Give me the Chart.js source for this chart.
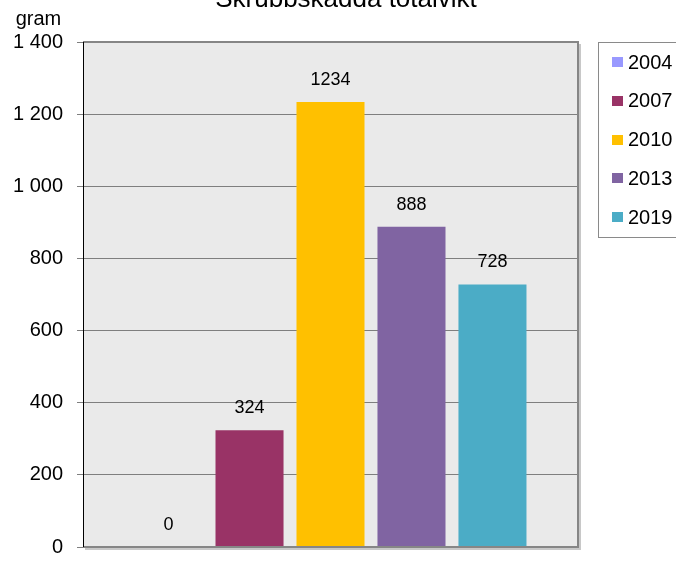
<!DOCTYPE html>
<html>
<head>
<meta charset="utf-8">
<script src="https://cdn.jsdelivr.net/npm/chart.js@4.4.1/dist/chart.umd.min.js"></script>
<style>
  html, body { margin: 0; padding: 0; background: #fff; overflow: hidden; }
  canvas { display: block; }
</style>
</head>
<body>
<canvas id="myChart" width="676" height="565"></canvas>
<script>
// data
const years = ['2004', '2007', '2010', '2013', '2019'];
const weights = [0, 324, 1234, 888, 728];
const barColors = ['#9999ff', '#993366', '#ffc000', '#8064a2', '#4bacc6'];
const yTicks = [0, 200, 400, 600, 800, 1000, 1200, 1400];

const chartTitle = 'Skrubbskädda totalvikt';
const yTitle = 'gram';
const FONT = '"Liberation Sans", Arial, sans-serif';

// swedish style thousands: "1 400"
function fmt(v) {
    return String(v).replace(/\B(?=(\d{3})+(?!\d))/g, ' ');
}

// plot background + frame
const plotFrame = {
    id: 'plotFrame',
    beforeDraw(chart) {
        const a = chart.chartArea, c = chart.ctx;
        c.save();
        c.fillStyle = '#eaeaea';
        c.fillRect(a.left, a.top, a.right - a.left, a.bottom - a.top);
        c.restore();
    },
    afterDraw(chart) {
        const a = chart.chartArea, c = chart.ctx;
        c.save();
        // soft shadow right and bottom
        c.strokeStyle = '#c8c8c8';
        c.lineWidth = 2;
        c.beginPath();
        c.moveTo(a.right + 2, a.top + 2);
        c.lineTo(a.right + 2, a.bottom + 2);
        c.lineTo(a.left + 2, a.bottom + 2);
        c.stroke();
        c.strokeStyle = '#868686';
        c.lineWidth = 2;
        c.beginPath();
        c.moveTo(a.left, a.top);
        c.lineTo(a.right, a.top);
        c.lineTo(a.right, a.bottom);
        c.lineTo(a.left, a.bottom);
        c.stroke();
        c.strokeStyle = '#000';
        c.lineWidth = 1;
        c.beginPath();
        c.moveTo(a.left + 0.5, a.top);
        c.lineTo(a.left + 0.5, a.bottom);
        c.stroke();
        c.restore();
    }
};

// value labels above the bars
const valueLabels = {
    id: 'valueLabels',
    afterDatasetsDraw(chart) {
        const c = chart.ctx;
        c.save();
        c.font = '18px ' + FONT;
        c.fillStyle = '#000';
        c.textAlign = 'center';
        c.textBaseline = 'middle';
        chart.data.datasets.forEach((ds, i) => {
            const bar = chart.getDatasetMeta(i).data[0];
            c.fillText(String(ds.data[0]), bar.x, bar.y - 22);
        });
        c.restore();
    }
};

// title, axis title and legend box
const extras = {
    id: 'extras',
    afterDraw(chart) {
        const c = chart.ctx;
        c.save();
        c.fillStyle = '#000';
        c.textAlign = 'center';
        c.textBaseline = 'alphabetic';
        c.font = '26px ' + FONT;
        c.fillText(chartTitle, 346, 7);
        c.font = '20px ' + FONT;
        c.fillText(yTitle, 38.5, 25);

        // legend
        c.textBaseline = 'middle';
        c.strokeStyle = '#8a8a8a';
        c.lineWidth = 1;
        c.strokeRect(598.5, 42.5, 100, 195);
        c.font = '20px ' + FONT;
        c.textAlign = 'left';
        chart.data.datasets.forEach((ds, i) => {
            const y = 62 + i * 38.75;
            c.fillStyle = ds.backgroundColor;
            c.fillRect(612, Math.round(y - 5), 11, 10);
            c.fillStyle = '#000';
            c.fillText(ds.label, 628, y + 1);
        });
        c.restore();
    }
};

const ctx = document.getElementById('myChart').getContext('2d');

const myChart = new Chart(ctx, {
    type: 'bar',
    data: {
        labels: [''],
        datasets: years.map((y, i) => ({
            label: y,
            data: [weights[i]],
            backgroundColor: barColors[i],
            borderWidth: 0,
            categoryPercentage: 0.818,
            barPercentage: 0.84
        }))
    },
    options: {
        responsive: false,
        animation: false,
        layout: {
            padding: { left: 0, right: 98, top: 42, bottom: 18 }
        },
        plugins: {
            legend: { display: false },
            title: { display: false },
            tooltip: { enabled: false }
        },
        scales: {
            x: {
                display: false
            },
            y: {
                min: yTicks[0],
                max: yTicks[yTicks.length - 1],
                afterFit(scale) {
                    scale.width = 83;
                    scale.paddingTop = 0;
                    scale.paddingBottom = 0;
                },
                afterBuildTicks(scale) {
                    scale.ticks = yTicks.map(v => ({ value: v }));
                },
                border: { display: false },
                grid: {
                    color: '#7f7f7f',
                    tickColor: '#7f7f7f',
                    tickLength: 6,
                    lineWidth: 1
                },
                ticks: {
                    color: '#000',
                    padding: 14,
                    font: { family: FONT, size: 20 },
                    callback: v => fmt(v)
                }
            }
        }
    },
    plugins: [plotFrame, valueLabels, extras]
});
</script>
</body>
</html>
